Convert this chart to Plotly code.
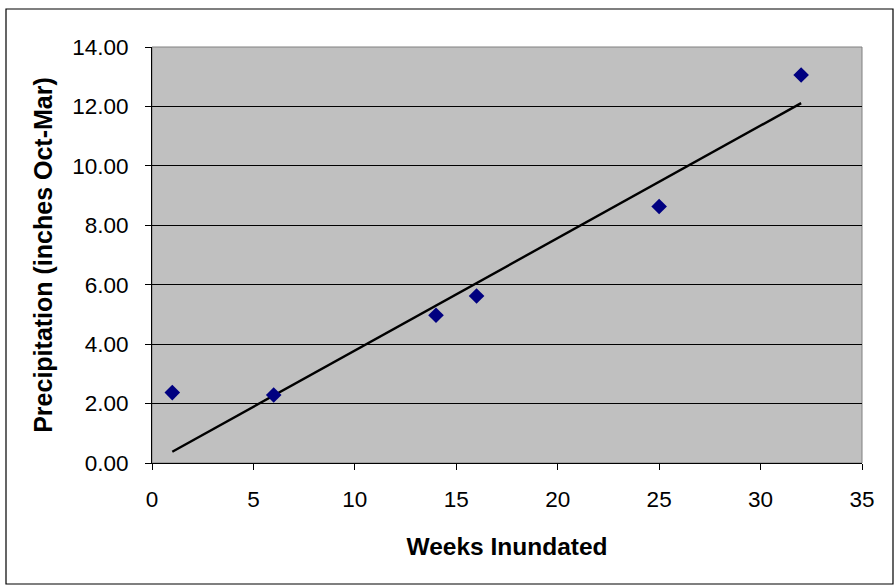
import numpy as np
import plotly.graph_objects as go

weeks = [1, 6, 14, 16, 25, 32]
precip = [2.37, 2.29, 4.97, 5.62, 8.63, 13.06]
x_ticks = [0, 5, 10, 15, 20, 25, 30, 35]
y_ticks = [0, 2, 4, 6, 8, 10, 12, 14]

# linear trendline with intercept set to 0 (as in the original spreadsheet chart)
wx = np.array(weeks, dtype=float)
py = np.array(precip, dtype=float)
slope = float((wx * py).sum() / (wx * wx).sum())
trend_x = [min(weeks), max(weeks)]
trend_y = [slope * v for v in trend_x]

FONT = "Liberation Sans, Arial, sans-serif"

fig = go.Figure()
fig.add_trace(go.Scatter(x=trend_x, y=trend_y, mode="lines",
                         line=dict(color="black", width=2.4), showlegend=False,
                         hoverinfo="skip"))
fig.add_trace(go.Scatter(x=weeks, y=precip, mode="markers",
                         marker=dict(symbol="diamond", size=12, color="#000080",
                                     line=dict(width=0)),
                         showlegend=False))

fig.update_layout(
    width=896, height=587,
    margin=dict(l=152, r=34, t=47, b=124),
    paper_bgcolor="white",
    plot_bgcolor="#C0C0C0",
    font=dict(family=FONT, color="black", size=22),
    xaxis=dict(range=[0, 35], tickvals=x_ticks, ticktext=[str(v) for v in x_ticks],
               showgrid=False, zeroline=False, showline=True, linecolor="black",
               linewidth=1, ticks="outside", ticklen=6, tickcolor="black",
               ticklabelstandoff=10,
               tickfont=dict(size=22.5, family=FONT),
               title=dict(text="<b>Weeks Inundated</b>", font=dict(size=24.5, family=FONT),
                          standoff=26)),
    yaxis=dict(range=[0, 14], tickvals=y_ticks, ticktext=[f"{v:.2f}" for v in y_ticks],
               showgrid=True, gridcolor="black", gridwidth=1, zeroline=False,
               showline=True, linecolor="black", linewidth=1,
               ticks="outside", ticklen=6, tickcolor="black",
               ticklabelstandoff=12,
               tickfont=dict(size=22.5, family=FONT),
               title=dict(text="<b>Precipitation (inches Oct-Mar)</b>",
                          font=dict(size=25, family=FONT), standoff=12)),
    shapes=[
        dict(type="rect", xref="paper", yref="paper", x0=0, x1=1, y0=0, y1=1,
             line=dict(color="#808080", width=1), fillcolor="rgba(0,0,0,0)", layer="below"),
        dict(type="rect", xref="paper", yref="paper",
             x0=(6 - 152) / 710, x1=(893 - 152) / 710,
             y0=(463 - 584) / 416, y1=(463 - 9) / 416,
             line=dict(color="black", width=1.2), fillcolor="rgba(0,0,0,0)"),
    ],
)

fig.write_html("out.html", config={"displayModeBar": False},
               post_script="document.body.style.margin='0';document.body.style.padding='0';")
